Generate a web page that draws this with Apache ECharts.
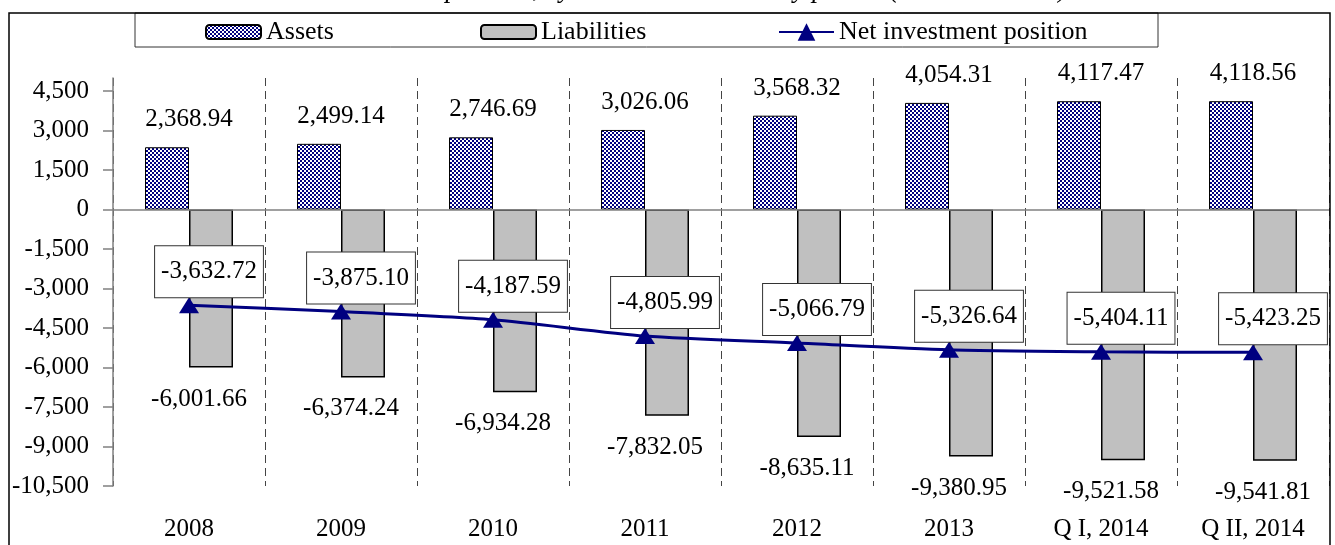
<!DOCTYPE html>
<html>
<head>
<meta charset="utf-8">
<title>Investment position</title>
<script src="https://cdn.jsdelivr.net/npm/echarts@6/dist/echarts.min.js"></script>
<style>
  html, body { margin: 0; padding: 0; background: #fff; }
  #chart { width: 1335px; height: 545px; }
</style>
</head>
<body>
<div id="chart"></div>
<script>
// categories and values
const categories = ['2008', '2009', '2010', '2011', '2012', '2013', 'Q I, 2014', 'Q II, 2014']
const assets = [2368.94, 2499.14, 2746.69, 3026.06, 3568.32, 4054.31, 4117.47, 4118.56]
const liabilities = [-6001.66, -6374.24, -6934.28, -7832.05, -8635.11, -9380.95, -9521.58, -9541.81]
const netPosition = [-3632.72, -3875.10, -4187.59, -4805.99, -5066.79, -5326.64, -5404.11, -5423.25]
const yTicks = [-10500, -9000, -7500, -6000, -4500, -3000, -1500, 0, 1500, 3000, 4500]

const FONT = '"Liberation Serif", "Times New Roman", serif'
const NAVY = '#000080'

// checker pattern for the assets bars
const makeChecker = () => {
  const c = document.createElement('canvas')
  c.width = 4
  c.height = 4
  const ctx = c.getContext('2d')
  ctx.fillStyle = '#fff'
  ctx.fillRect(0, 0, 4, 4)
  ctx.fillStyle = NAVY
  ctx.fillRect(0, 0, 2, 2)
  ctx.fillRect(2, 2, 2, 2)
  return c
}

const fmt = (v) =>
  Number(v).toLocaleString('en-US', { minimumFractionDigits: 2, maximumFractionDigits: 2 })

const myChart = echarts.init(document.getElementById('chart'))

const legendText = { fontFamily: FONT, fontSize: 26, color: '#000', lineHeight: 26 }

const option = {
  animation: false,
  textStyle: { fontFamily: FONT },
  graphic: [
    // outer frame
    {
      type: 'rect',
      shape: { x: 9, y: 13, width: 1321, height: 600 },
      style: { fill: 'none', stroke: '#000', lineWidth: 1.5 },
      z: 100,
    },
    // legend box
    {
      type: 'rect',
      shape: { x: 135, y: 13, width: 1023, height: 34 },
      style: { fill: '#fff', stroke: '#333', lineWidth: 1 },
      z: 1,
    },
    // title, mostly cut off by the top edge
    {
      type: 'text',
      left: 174,
      top: -24,
      style: {
        text: 'International investment position, by the situation at every period (million dollars)',
        font: 'italic 27px ' + FONT,
        fill: '#000',
      },
    },
  ],
  legend: [
    {
      data: ['Assets'],
      left: 205,
      top: 19,
      padding: 0,
      itemWidth: 55,
      itemHeight: 14,
      textStyle: legendText,
      z: 10,
    },
    {
      data: ['Liabilities'],
      left: 480,
      top: 19,
      padding: 0,
      itemWidth: 55,
      itemHeight: 14,
      textStyle: legendText,
      z: 10,
    },
    {
      data: ['Net investment position'],
      left: 778,
      top: 19,
      padding: 0,
      itemWidth: 55,
      itemHeight: 22,
      textStyle: legendText,
      z: 10,
    },
  ],
  grid: {
    left: 113,
    right: 6,
    top: 78,
    bottom: 59,
    outerBoundsMode: 'none',
  },
  xAxis: {
    type: 'category',
    data: categories,
    axisLine: { show: false, onZero: false },
    axisTick: { show: false },
    axisLabel: { margin: 31, fontSize: 25, color: '#000', fontFamily: FONT },
    splitLine: {
      show: true,
      lineStyle: { color: '#444', width: 1, type: [8, 5] },
    },
  },
  yAxis: {
    type: 'value',
    min: -10500,
    max: 5000,
    axisLine: { show: true, lineStyle: { color: '#808080', width: 1.5 } },
    axisTick: {
      show: true,
      length: 10,
      customValues: yTicks,
      lineStyle: { color: '#808080', width: 1.5 },
    },
    axisLabel: {
      customValues: yTicks,
      margin: 24,
      fontSize: 25,
      color: '#000',
      fontFamily: FONT,
      formatter: (v) => Number(v).toLocaleString('en-US'),
    },
    splitLine: { show: false },
  },
  series: [
    {
      name: 'Assets',
      type: 'bar',
      data: assets,
      barWidth: 44,
      barGap: '0%',
      itemStyle: {
        color: { image: makeChecker(), repeat: 'repeat' },
        borderColor: '#000',
        borderWidth: 1,
      },
      label: {
        show: true,
        position: 'top',
        distance: 15,
        offset: [22, 0],
        fontSize: 25,
        color: '#000',
        fontFamily: FONT,
        formatter: (p) => fmt(p.value),
      },
      markLine: {
        silent: true,
        symbol: 'none',
        label: { show: false },
        lineStyle: { color: '#808080', type: 'solid', width: 1.5 },
        data: [{ yAxis: 0 }],
      },
    },
    {
      name: 'Liabilities',
      type: 'bar',
      data: liabilities,
      barWidth: 44,
      barGap: '0%',
      itemStyle: {
        color: '#C0C0C0',
        borderColor: '#000',
        borderWidth: 1.5,
      },
      label: {
        show: true,
        position: 'bottom',
        distance: 19,
        offset: [-12, 0],
        fontSize: 25,
        color: '#000',
        fontFamily: FONT,
        formatter: (p) => fmt(p.value),
      },
    },
    {
      name: 'Net investment position',
      type: 'line',
      data: netPosition,
      smooth: 0.25,
      symbol: 'triangle',
      symbolSize: [20, 16],
      itemStyle: { color: NAVY },
      lineStyle: { color: NAVY, width: 3 },
      z: 5,
      label: {
        show: true,
        position: 'top',
        distance: 0,
        offset: [20, 0],
        fontSize: 25,
        color: '#000',
        fontFamily: FONT,
        backgroundColor: '#fff',
        borderColor: '#333',
        borderWidth: 1,
        padding: [13, 6],
        formatter: (p) => fmt(p.value),
      },
    },
  ],
}

myChart.setOption(option)
</script>
</body>
</html>
